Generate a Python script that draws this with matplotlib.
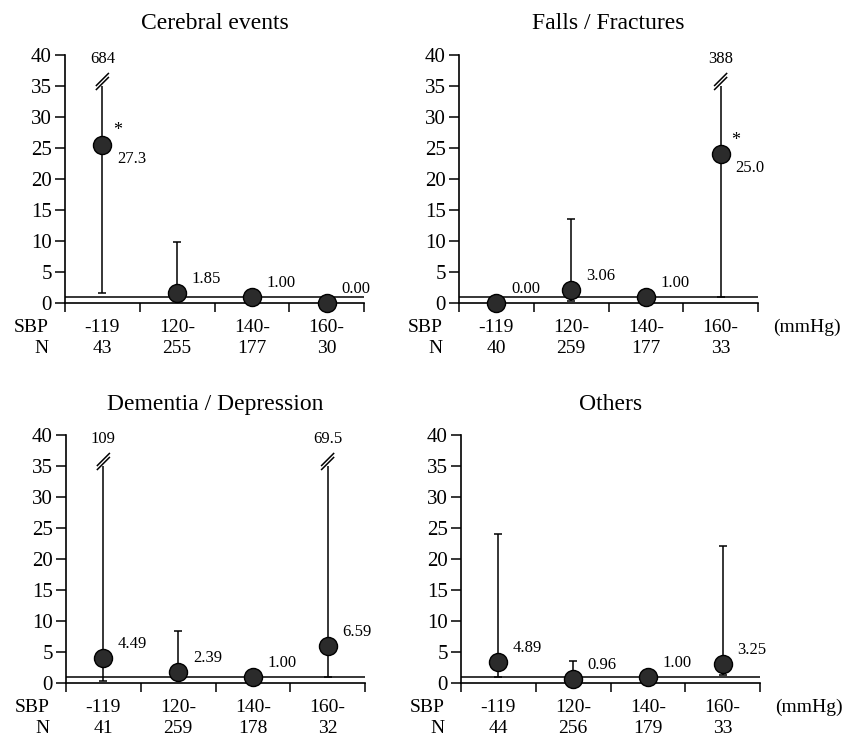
import numpy as np
import matplotlib
matplotlib.use('Agg')
import matplotlib.pyplot as plt

plt.rcParams['font.family'] = ['Liberation Serif', 'DejaVu Serif']

# Panel data
titles = ['Cerebral events', 'Falls / Fractures', 'Dementia / Depression', 'Others']
sbp_groups = ['-119', '120-', '140-', '160-']
n_counts = [
    [43, 255, 177, 30],
    [40, 259, 177, 33],
    [41, 259, 178, 32],
    [44, 256, 179, 33],
]
# plotted point estimates
points = [
    [25.5, 1.6, 1.0, 0.0],
    [0.0, 2.0, 1.0, 24.0],
    [4.0, 1.7, 1.0, 5.9],
    [3.4, 0.6, 1.0, 3.0],
]
value_labels = [
    ['27.3', '1.85', '1.00', '0.00'],
    ['0.00', '3.06', '1.00', '25.0'],
    ['4.49', '2.39', '1.00', '6.59'],
    ['4.89', '0.96', '1.00', '3.25'],
]
nan = np.nan
upper_ci = [
    [684, 9.8, nan, nan],
    [nan, 13.5, nan, 388],
    [109, 8.3, nan, 69.5],
    [24.0, 3.5, nan, 22.0],
]
lower_ci = [
    [1.6, nan, nan, nan],
    [nan, 0.3, nan, 1.0],
    [0.2, nan, nan, 1.0],
    [1.0, nan, nan, 1.3],
]
significant = [
    [True, False, False, False],
    [False, False, False, True],
    [False, False, False, False],
    [False, False, False, False],
]

W, H = 848, 742
fig = plt.figure(figsize=(W / 100, H / 100), dpi=100)

ax_w, ax_h = 299 / W, 247.7 / H
positions = [
    (65 / W, 1 - 302.7 / H),
    (459 / W, 1 - 302.7 / H),
    (66 / W, 1 - 682.7 / H),
    (461 / W, 1 - 682.7 / H),
]

YMAX = 40
BREAK_AT = 35
px_x = 299 / 4        # pixels per x unit
px_y = 247.7 / YMAX   # pixels per y unit


def break_mark(ax, x, y):
    dx, dy = 6 / px_x, 6 / px_y
    off = 4 / px_y
    for k in range(2):
        yc = y + 0.4 + k * off
        ax.plot([x - dx, x + dx], [yc - dy, yc + dy], color='k', lw=1.1,
                clip_on=False, zorder=4)


for i in range(4):
    ax = fig.add_axes([positions[i][0], positions[i][1], ax_w, ax_h])
    xs = np.arange(4) + 0.5

    ax.set_xlim(0, 4)
    ax.set_ylim(0, YMAX)
    ax.spines['top'].set_visible(False)
    ax.spines['right'].set_visible(False)
    for s in ['left', 'bottom']:
        ax.spines[s].set_linewidth(1.2)
    ax.set_xticks(np.arange(5))
    ax.set_xticklabels([])
    ax.set_yticks(np.arange(0, 41, 5))
    ax.tick_params(axis='y', direction='out', length=7, width=1.1,
                   labelsize=15, pad=2.5)
    ax.tick_params(axis='x', direction='out', length=6.5, width=1.1)

    # reference line at hazard ratio 1
    ax.axhline(1, color='k', lw=1.1, zorder=2)

    for j, x in enumerate(xs):
        up = upper_ci[i][j]
        lo = lower_ci[i][j]
        p = points[i][j]
        if not np.isnan(up):
            top = min(up, BREAK_AT) if up > YMAX else up
            ax.vlines(x, p, top, color='k', lw=1.1, zorder=3)
            if up > YMAX:
                break_mark(ax, x, BREAK_AT)
                ax.text(x, 39.3, f'{up:g}', ha='center', va='center',
                        fontsize=12, clip_on=False)
            else:
                ax.plot([x], [top], marker='_', ms=5.5, mew=1.1, color='k',
                        zorder=3)
        if not np.isnan(lo):
            ax.vlines(x, lo, p, color='k', lw=1.1, zorder=3)
            ax.plot([x], [lo], marker='_', ms=5.5, mew=1.1, color='k',
                    zorder=3)

        ax.plot([x], [p], marker='o', ms=13, mfc='#2b2b2b', mec='k',
                mew=1.0, clip_on=False, zorder=5)

        if significant[i][j]:
            ax.annotate(value_labels[i][j], (x, p), xytext=(21, -10),
                        textcoords='offset points', ha='center', va='center',
                        fontsize=12)
            ax.annotate('*', (x, p), xytext=(11, 10),
                        textcoords='offset points', ha='center', va='center',
                        fontsize=13)
        else:
            ax.annotate(value_labels[i][j], (x, p), xytext=(21, 10),
                        textcoords='offset points', ha='center', va='center',
                        fontsize=12)

    # group labels below the axis
    for j, x in enumerate(xs):
        ax.text(x, -25 / 247.7, sbp_groups[j],
                transform=ax.get_xaxis_transform(), ha='center', va='center',
                fontsize=14)
        ax.text(x, -46 / 247.7, str(n_counts[i][j]),
                transform=ax.get_xaxis_transform(), ha='center', va='center',
                fontsize=14)
    ax.text(-0.055, -25 / 247.7, 'SBP', transform=ax.transAxes,
            ha='right', va='center', fontsize=14)
    ax.text(-0.055, -46 / 247.7, 'N', transform=ax.transAxes,
            ha='right', va='center', fontsize=14)
    if i % 2 == 1:
        ax.text(1.05, -25 / 247.7, '(mmHg)', transform=ax.transAxes,
                ha='left', va='center', fontsize=14)

    ax.text(0.5, 1 + 31 / 247.7, titles[i], transform=ax.transAxes,
            ha='center', va='center', fontsize=17)

fig.savefig('out.png', dpi=100)
